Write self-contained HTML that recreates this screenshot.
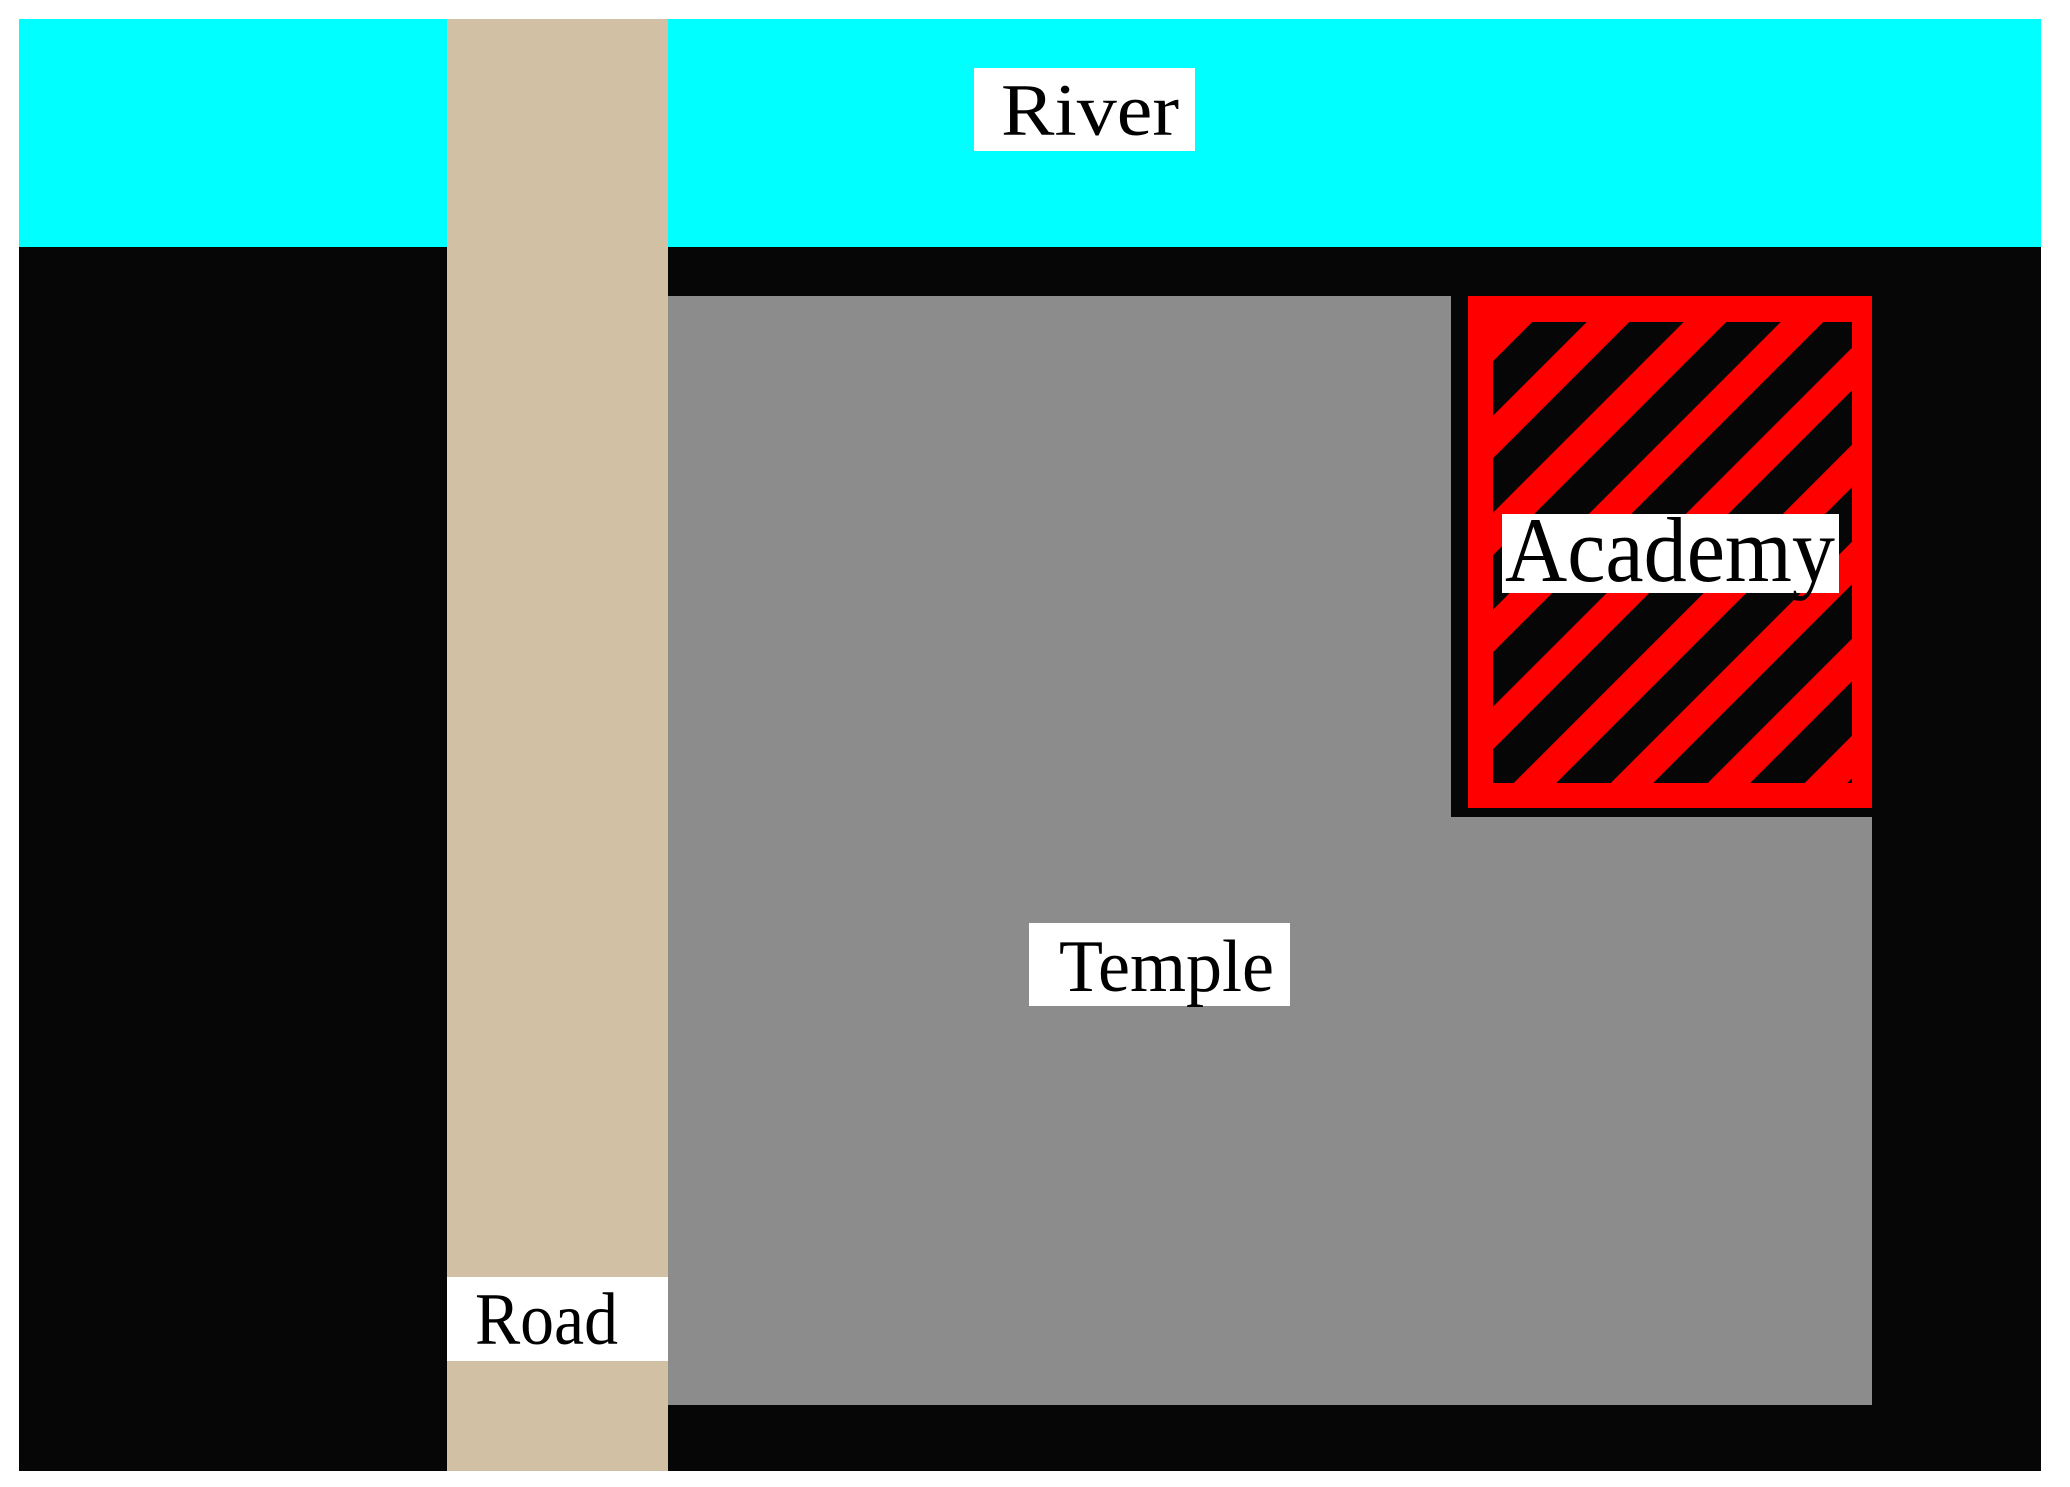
<!DOCTYPE html>
<html><head><meta charset="utf-8"><style>html,body{margin:0;padding:0;background:#fff;}svg{display:block}</style></head>
<body>
<svg width="2070" height="1487" viewBox="0 0 2070 1487" xmlns="http://www.w3.org/2000/svg">
<defs><clipPath id="c"><rect x="1493" y="322" width="359" height="461"/></clipPath></defs>
<rect x="0" y="0" width="2070" height="1487" fill="#fff"/>
<rect x="19" y="19" width="2022" height="1452" fill="#060606"/>
<rect x="19" y="19" width="2022" height="228" fill="#00ffff"/>
<rect x="668" y="296" width="1204" height="1109" fill="#8c8c8c"/>
<rect x="1451" y="296" width="421" height="521" fill="#060606"/>
<rect x="1468" y="296" width="404" height="512" fill="#ff0000"/>
<rect x="1493" y="322" width="359" height="461" fill="#060606"/>
<g clip-path="url(#c)" stroke="#ff0000" stroke-width="30">
<line x1="1400" y1="336" x2="2000" y2="-264"/>
<line x1="1400" y1="433" x2="2000" y2="-167"/>
<line x1="1400" y1="530" x2="2000" y2="-70"/>
<line x1="1400" y1="627" x2="2000" y2="27"/>
<line x1="1400" y1="724" x2="2000" y2="124"/>
<line x1="1400" y1="821" x2="2000" y2="221"/>
<line x1="1400" y1="918" x2="2000" y2="318"/>
<line x1="1400" y1="1015" x2="2000" y2="415"/>
<line x1="1400" y1="1112" x2="2000" y2="512"/>
<line x1="1400" y1="1209" x2="2000" y2="609"/>
<line x1="1400" y1="1306" x2="2000" y2="706"/>
</g>
<rect x="447" y="19" width="221" height="1452" fill="#d2c0a5"/>
<rect x="974" y="68" width="221" height="83" fill="#fff"/>
<rect x="1029" y="923" width="261" height="83" fill="#fff"/>
<rect x="447" y="1277" width="221" height="84" fill="#fff"/>
<rect x="1502" y="514" width="337" height="79" fill="#fff"/>
<g font-family="Liberation Serif, serif" fill="#000">
<text x="1001" y="135" font-size="74" textLength="178" lengthAdjust="spacingAndGlyphs">River</text>
<text x="1059" y="991" font-size="74" textLength="215" lengthAdjust="spacingAndGlyphs">Temple</text>
<text x="475" y="1344" font-size="74" textLength="143" lengthAdjust="spacingAndGlyphs">Road</text>
<text x="1505" y="581" font-size="92" textLength="330" lengthAdjust="spacingAndGlyphs">Academy</text>
</g>
</svg>
</body></html>
